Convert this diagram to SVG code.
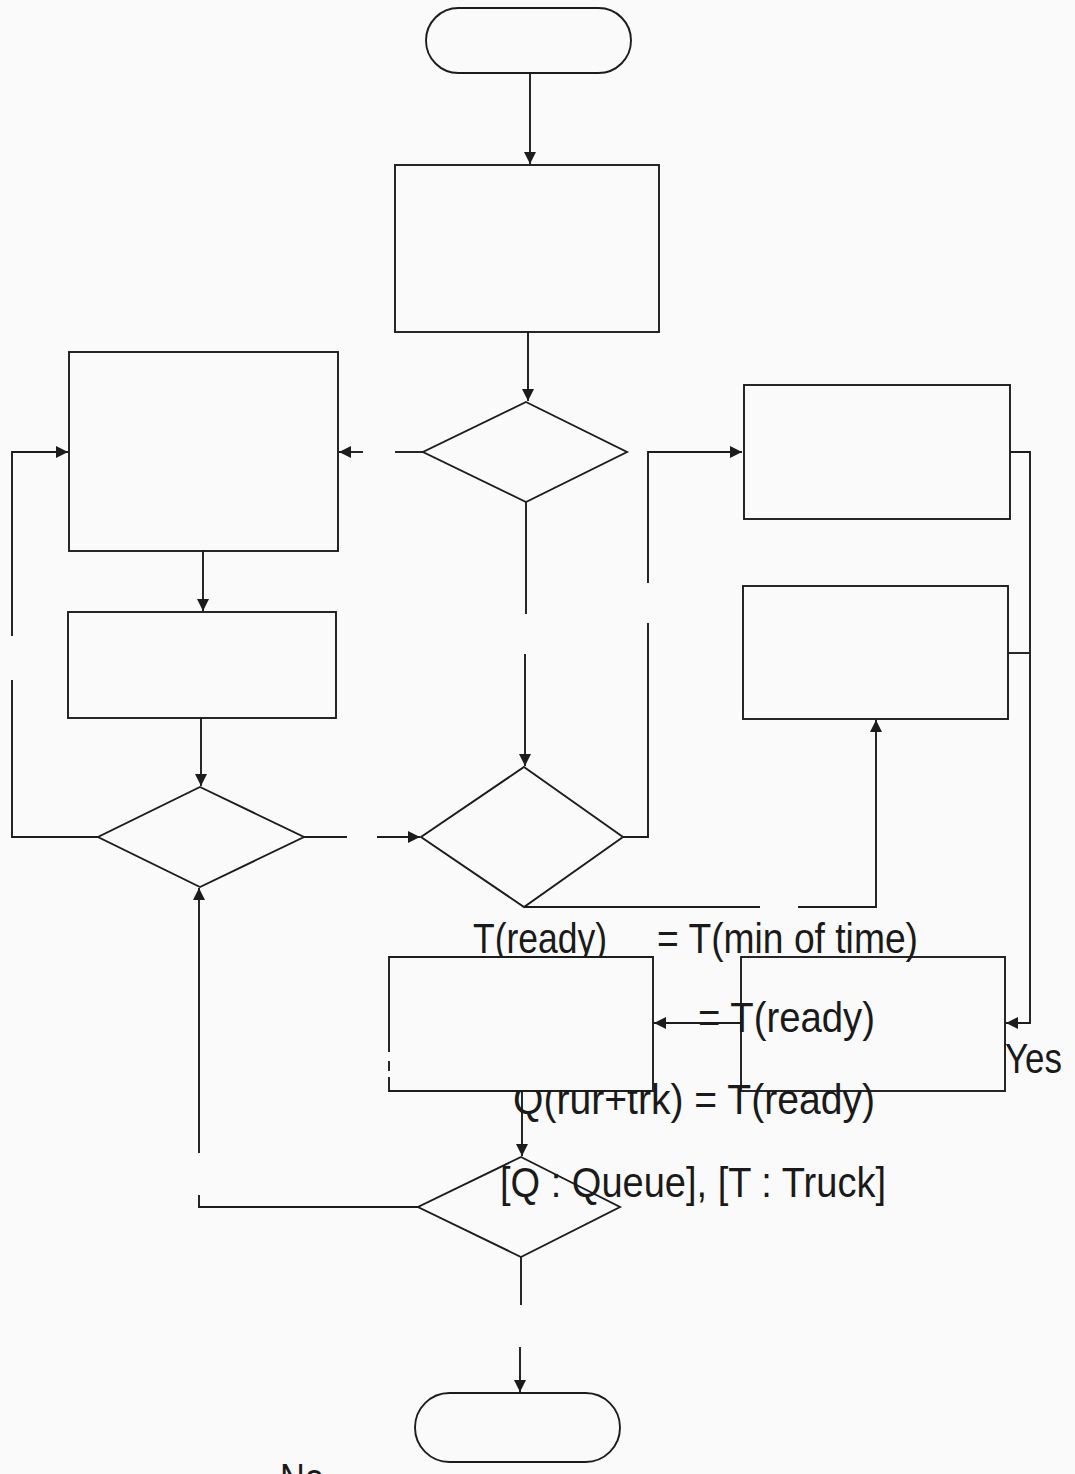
<svg xmlns="http://www.w3.org/2000/svg" width="1075" height="1474" viewBox="0 0 1075 1474">
  <style>
    .shape { fill: none; stroke: #1c1c1c; stroke-width: 1.9; stroke-linejoin: miter; }
    .wire { fill: none; stroke: #1c1c1c; stroke-width: 1.9; }
    .label { font-family: "Liberation Sans", Arial, sans-serif; font-size: 42px; fill: #1a1a1a; }
  </style>
  <defs>
    <marker id="arrow" viewBox="0 0 10 10" refX="10" refY="5" markerWidth="15" markerHeight="12" markerUnits="userSpaceOnUse" orient="auto">
      <path d="M0,0 L10,5 L0,10 z" fill="#1c1c1c"/>
    </marker>
    <!-- labels that run under a box edge are cut at that edge -->
    <clipPath id="aboveBox">
      <rect x="0" y="0" width="1075" height="956"/>
    </clipPath>
    <clipPath id="belowBox">
      <rect x="0" y="1091" width="1075" height="383"/>
      <rect x="654" y="0" width="421" height="1474"/>
    </clipPath>
  </defs>

  <rect x="0" y="0" width="1075" height="1474" fill="#fafafa"/>

  <!-- connectors -->
  <g id="connectors">
    <path class="wire" d="M530,73 V164" marker-end="url(#arrow)"/>
    <path class="wire" d="M528,332 V401" marker-end="url(#arrow)"/>
    <!-- decision 1, left branch -->
    <path class="wire" d="M423,452 H395"/>
    <path class="wire" d="M363,452 H339" marker-end="url(#arrow)"/>
    <!-- decision 1, down branch -->
    <path class="wire" d="M526,502 V614"/>
    <path class="wire" d="M525,654 V766" marker-end="url(#arrow)"/>
    <!-- left column -->
    <path class="wire" d="M203,551 V611" marker-end="url(#arrow)"/>
    <path class="wire" d="M201,718 V786" marker-end="url(#arrow)"/>
    <path class="wire" d="M98,837 H12 V680"/>
    <path class="wire" d="M12,636 V452 H68" marker-end="url(#arrow)"/>
    <path class="wire" d="M304,837 H347"/>
    <path class="wire" d="M377,837 H420" marker-end="url(#arrow)"/>
    <!-- decision 3, right branch -->
    <path class="wire" d="M623,837 H648 V623"/>
    <path class="wire" d="M648,583 V452 H742" marker-end="url(#arrow)"/>
    <!-- right column merge -->
    <path class="wire" d="M1010,452 H1030 V1023 H1006" marker-end="url(#arrow)"/>
    <path class="wire" d="M1008,653 H1030"/>
    <!-- decision 3, bottom branch -->
    <path class="wire" d="M524,907 H760"/>
    <path class="wire" d="M798,907 H876 V720" marker-end="url(#arrow)"/>
    <!-- lower boxes -->
    <path class="wire" d="M741,1023 H654" marker-end="url(#arrow)"/>
    <path class="wire" d="M522,1091 V1156" marker-end="url(#arrow)"/>
    <!-- decision 4 -->
    <path class="wire" d="M418,1207 H199 V1195"/>
    <path class="wire" d="M199,1153 V888" marker-end="url(#arrow)"/>
    <path class="wire" d="M521,1257 V1305"/>
    <path class="wire" d="M520,1347 V1392" marker-end="url(#arrow)"/>
  </g>

  <!-- nodes -->
  <g id="start"><rect class="shape" x="426" y="8" width="205" height="65" rx="32.5"/></g>
  <g id="box-init"><rect class="shape" x="395" y="165" width="264" height="167"/></g>
  <g id="decision-1"><polygon class="shape" points="526,402 627,452 526,502 423,452"/></g>
  <g id="box-left-1"><rect class="shape" x="69" y="352" width="269" height="199"/></g>
  <g id="box-left-2"><rect class="shape" x="68" y="612" width="268" height="106"/></g>
  <g id="decision-2"><polygon class="shape" points="200,787 304,837 200,887 98,837"/></g>
  <g id="decision-3"><polygon class="shape" points="524,767 623,837 524,907 421,837"/></g>
  <g id="box-right-1"><rect class="shape" x="744" y="385" width="266" height="134"/></g>
  <g id="box-right-2"><rect class="shape" x="743" y="586" width="265" height="133"/></g>
  <g id="box-right-3"><rect class="shape" x="741" y="957" width="264" height="134"/></g>
  <g id="box-lower-mid">
    <path class="shape" d="M389,1052 V957 H653 V1091 H389 V1077"/>
    <path class="shape" d="M389,1061 V1071"/>
  </g>
  <g id="decision-4"><polygon class="shape" points="521,1157 620,1207 521,1257 418,1207"/></g>
  <g id="end"><rect class="shape" x="415" y="1393" width="205" height="69" rx="34.5"/></g>

  <!-- labels -->
  <g id="labels">
    <text class="label" x="473" y="953" textLength="134" lengthAdjust="spacingAndGlyphs" clip-path="url(#aboveBox)">T(ready)</text>
    <text class="label" x="657" y="953" textLength="261" lengthAdjust="spacingAndGlyphs">= T(min of time)</text>
    <text class="label" x="698" y="1032" textLength="177" lengthAdjust="spacingAndGlyphs">= T(ready)</text>
    <text class="label" x="513" y="1114" textLength="362" lengthAdjust="spacingAndGlyphs" clip-path="url(#belowBox)">Q(rur+trk) = T(ready)</text>
    <text class="label" x="500" y="1197" textLength="386" lengthAdjust="spacingAndGlyphs">[Q : Queue], [T : Truck]</text>
    <text class="label" x="1005" y="1073" textLength="57" lengthAdjust="spacingAndGlyphs">Yes</text>
    <text class="label" x="280" y="1493" textLength="44" lengthAdjust="spacingAndGlyphs">No</text>
  </g>
</svg>
